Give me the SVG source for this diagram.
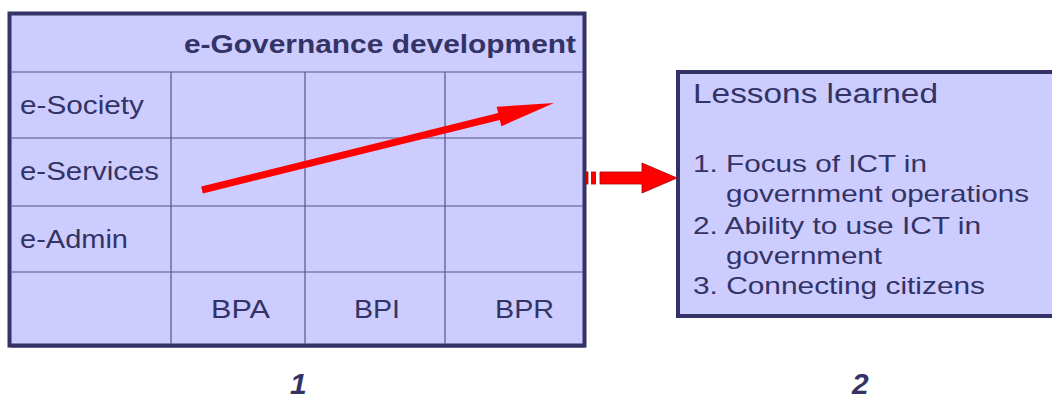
<svg xmlns="http://www.w3.org/2000/svg" width="1052" height="399" viewBox="0 0 1052 399">
<style>
.box{fill:#ccccff;stroke:#333366;stroke-width:4}
.grid{stroke:#555588;stroke-width:1.2;fill:none}
.t{font-family:"Liberation Sans",Arial,sans-serif;fill:#333366}
.lbl{font-size:25px}
.lst{font-size:24px}
.num{font-family:"Liberation Sans",Arial,sans-serif;fill:#333366;font-size:30px;font-weight:bold;font-style:italic}
.red{fill:#ff0000;stroke:#aa0000;stroke-width:0.8}
</style>
<rect width="1052" height="399" fill="#ffffff"/>
<g id="table">
<rect class="box" x="9.5" y="13.5" width="575" height="332"/>
<line x1="10" y1="346.5" x2="585" y2="346.5" stroke="#333366" stroke-width="2"/>
<g class="grid">
<line x1="10" y1="72" x2="583" y2="72"/>
<line x1="10" y1="138" x2="583" y2="138"/>
<line x1="10" y1="206" x2="583" y2="206"/>
<line x1="10" y1="272" x2="583" y2="272"/>
<line x1="171" y1="72" x2="171" y2="344"/>
<line x1="305" y1="72" x2="305" y2="344"/>
<line x1="445" y1="72" x2="445" y2="344"/>
</g>
<text class="t" x="184" y="53" font-size="25" font-weight="bold" textLength="392" lengthAdjust="spacingAndGlyphs">e-Governance development</text>
<text class="t lbl" x="20" y="114" textLength="124" lengthAdjust="spacingAndGlyphs">e-Society</text>
<text class="t lbl" x="20" y="180" textLength="139" lengthAdjust="spacingAndGlyphs">e-Services</text>
<text class="t lbl" x="20" y="248" textLength="108" lengthAdjust="spacingAndGlyphs">e-Admin</text>
<text class="t lbl" x="211" y="318" textLength="59" lengthAdjust="spacingAndGlyphs">BPA</text>
<text class="t lbl" x="354" y="318" textLength="46" lengthAdjust="spacingAndGlyphs">BPI</text>
<text class="t lbl" x="495" y="318" textLength="59" lengthAdjust="spacingAndGlyphs">BPR</text>
</g>
<g id="lessons">
<rect class="box" x="678" y="72" width="390" height="244"/>
<text class="t" x="693" y="103" font-size="27" textLength="245" lengthAdjust="spacingAndGlyphs">Lessons learned</text>
<text class="t lst" x="693" y="172" textLength="234" lengthAdjust="spacingAndGlyphs">1. Focus of ICT in</text>
<text class="t lst" x="726" y="202" textLength="303" lengthAdjust="spacingAndGlyphs">government operations</text>
<text class="t lst" x="693" y="234" textLength="288" lengthAdjust="spacingAndGlyphs">2. Ability to use ICT in</text>
<text class="t lst" x="726" y="264" textLength="156" lengthAdjust="spacingAndGlyphs">government</text>
<text class="t lst" x="693" y="294" textLength="292" lengthAdjust="spacingAndGlyphs">3. Connecting citizens</text>
</g>
<g id="label1"><text class="num" x="290" y="394">1</text></g>
<g id="label2"><text class="num" x="852" y="394">2</text></g>
<g id="connectors">
<polygon fill="#ff0000" points="201.2,186.6 498.2,113.1 496.6,106.8 554,103 501.4,126.2 499.8,119.9 202.8,193.4"/>
<rect class="red" x="586" y="172" width="2" height="12"/>
<rect class="red" x="591.5" y="172" width="4" height="12"/>
<polygon class="red" points="600,172 642,172 642,163 677,178 642,193 642,184 600,184"/>
</g>
</svg>
